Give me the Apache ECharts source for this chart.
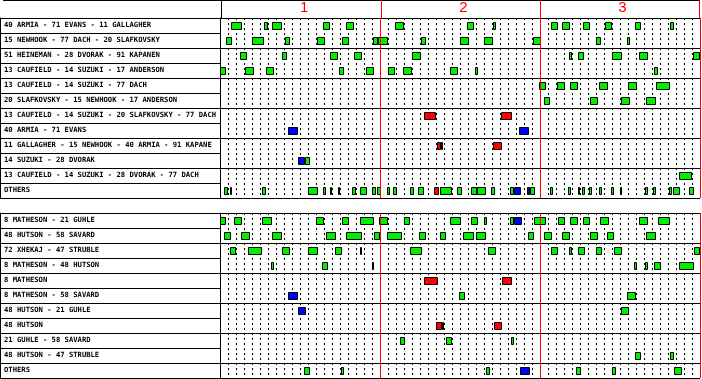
<!DOCTYPE html>
<html><head><meta charset="utf-8">
<script src="https://cdn.jsdelivr.net/npm/echarts@6/dist/echarts.min.js"></script>
<style>html,body{margin:0;padding:0;background:#fff}#c{width:702px;height:379px}</style>
</head><body><div id="c"></div>
<script>
// ---- data ----
var periods = ['1', '2', '3'];
var periodCenters = [10, 30, 50];
var periodEnds = [20, 40, 60];

var topRows = [
  '40 ARMIA - 71 EVANS - 11 GALLAGHER',
  '15 NEWHOOK - 77 DACH - 20 SLAFKOVSKY',
  '51 HEINEMAN - 28 DVORAK - 91 KAPANEN',
  '13 CAUFIELD - 14 SUZUKI - 17 ANDERSON',
  '13 CAUFIELD - 14 SUZUKI - 77 DACH',
  '20 SLAFKOVSKY - 15 NEWHOOK - 17 ANDERSON',
  '13 CAUFIELD - 14 SUZUKI - 20 SLAFKOVSKY - 77 DACH',
  '40 ARMIA - 71 EVANS',
  '11 GALLAGHER - 15 NEWHOOK - 40 ARMIA - 91 KAPANE',
  '14 SUZUKI - 28 DVORAK',
  '13 CAUFIELD - 14 SUZUKI - 28 DVORAK - 77 DACH',
  'OTHERS'
];
var bottomRows = [
  '8 MATHESON - 21 GUHLE',
  '48 HUTSON - 58 SAVARD',
  '72 XHEKAJ - 47 STRUBLE',
  '8 MATHESON - 48 HUTSON',
  '8 MATHESON',
  '8 MATHESON - 58 SAVARD',
  '48 HUTSON - 21 GUHLE',
  '48 HUTSON',
  '21 GUHLE - 58 SAVARD',
  '48 HUTSON - 47 STRUBLE',
  'OTHERS'
];

// [row, start minute, end minute]
var topGreen = [
  [0,1.4,2.7],[0,5.5,6.0],[0,6.5,7.8],[0,12.9,13.8],[0,15.75,16.7],[0,21.9,23.0],[0,30.9,31.7],[0,34.1,34.5],[0,41.4,42.3],[0,42.75,43.7],[0,45.4,46.3],[0,48.1,49.0],[0,51.9,52.6],[0,56.25,56.8],
  [1,0.75,1.55],[1,4.05,5.45],[1,8.1,8.7],[1,12.1,13.1],[1,15.3,16.1],[1,19.1,19.8],[1,19.8,21.05],[1,25.1,25.7],[1,30.0,31.1],[1,33.0,34.1],[1,39.1,40.1],[1,47.0,47.6],[1,50.9,51.2],
  [2,2.5,3.4],[2,7.7,8.4],[2,13.7,14.8],[2,16.7,17.8],[2,24.0,25.1],[2,43.6,44.0],[2,44.75,45.5],[2,49.0,50.2],[2,52.4,53.5],[2,59.1,60],
  [3,0,0.7],[3,3.1,4.2],[3,5.75,6.75],[3,14.9,15.5],[3,18.2,19.2],[3,21.0,21.9],[3,22.9,24.0],[3,28.75,29.8],[3,31.9,32.2],[3,54.25,54.7],
  [4,39.9,40.7],[4,42.1,43.1],[4,43.75,44.8],[4,47.4,48.5],[4,51.0,52.1],[4,54.5,56.3],
  [5,40.5,41.3],[5,46.25,47.2],[5,50.1,51.2],[5,53.25,54.5],
  [8,27.6,27.85],
  [9,10.6,11.2],
  [10,57.4,59.0],
  [11,0.5,0.95],[11,1.2,1.5],[11,5.2,5.7],[11,11.0,12.3],[11,12.9,13.2],[11,13.7,14.0],[11,14.7,15.0],[11,16.5,16.95],[11,17.5,18.4],[11,19.0,19.5],[11,19.6,20.1],[11,20.9,21.2],[11,21.6,22.1],[11,23.75,24.3],[11,24.8,25.5],[11,27.5,29.0],[11,29.6,30.2],[11,31.4,32.1],[11,32.1,33.2],[11,33.9,34.4],[11,36.2,36.75],[11,38.75,39.4],[11,41.2,41.6],[11,43.5,43.9],[11,44.7,45.0],[11,45.25,45.6],[11,46.1,46.5],[11,47.4,47.7],[11,48.9,49.2],[11,50.0,50.3],[11,53.1,53.5],[11,54.1,54.5],[11,56.1,56.5],[11,56.6,57.5],[11,58.6,59.3]
];
var topRed = [
  [6,25.5,27.0],[6,35.1,36.5],
  [8,27.1,27.6],[8,34.1,35.3],
  [11,26.8,27.4]
];
var topBlue = [
  [7,8.5,9.8],[7,37.4,38.6],
  [9,9.7,10.6],
  [11,36.75,37.6],[11,38.4,38.75]
];

var bottomGreen = [
  [0,0,0.7],[0,1.8,2.8],[0,5.2,6.5],[0,12.0,13.0],[0,15.3,16.1],[0,17.5,19.2],[0,19.9,21.0],[0,23.0,23.8],[0,28.7,30.1],[0,31.4,32.2],[0,33.0,33.4],[0,36.2,36.7],[0,39.2,40.7],[0,42.2,43.1],[0,43.8,44.8],[0,45.4,46.3],[0,47.5,48.6],[0,52.4,53.5],[0,54.8,56.3],
  [1,0.55,1.4],[1,2.65,3.8],[1,6.5,7.8],[1,13.3,14.5],[1,15.8,17.7],[1,19.2,20.0],[1,20.9,22.8],[1,24.9,25.7],[1,27.5,28.3],[1,30.4,31.7],[1,32.0,33.2],[1,38.5,39.3],[1,40.5,41.5],[1,42.8,43.8],[1,46.2,47.2],[1,48.4,49.3],[1,53.3,54.5],
  [2,1.3,1.95],[2,3.5,5.3],[2,7.7,8.7],[2,11.0,12.2],[2,14.4,15.3],[2,17.5,17.8],[2,23.7,25.2],[2,33.5,34.5],[2,41.4,42.3],[2,43.6,44.0],[2,44.75,45.6],[2,47.0,47.7],[2,49.2,50.3],[2,59.2,60],
  [3,6.4,6.7],[3,12.8,13.5],[3,19.0,19.3],[3,51.7,52.1],[3,53.1,53.5],[3,54.25,55.1],[3,57.4,59.3],
  [5,29.9,30.6],[5,50.9,52.0],
  [6,50.1,51.1],
  [7,27.7,27.9],
  [8,22.5,23.1],[8,28.2,29.0],[8,36.4,36.8],
  [9,51.9,52.6],[9,56.2,56.8],
  [10,10.5,11.2],[10,15.1,15.5],[10,33.25,33.7],[10,44.5,45.1],[10,49.0,49.5],[10,56.7,57.7]
];
var bottomRed = [
  [4,25.5,27.2],[4,35.2,36.5],
  [7,27.0,27.7],[7,34.2,35.3]
];
var bottomBlue = [
  [0,36.7,37.7],
  [5,8.5,9.8],
  [6,9.7,10.7],
  [10,37.5,38.7]
];

// ---- chart ----
var GREEN = '#00ee00', RED = '#ff0000', BLUE = '#0000ff';

function shiftRenderer(color) {
  return function (params, api) {
    var row = api.value(0);
    var p0 = api.coord([api.value(1), row]);
    var p1 = api.coord([api.value(2), row]);
    var x0 = Math.round(p0[0]) + 0.5;
    var x1 = Math.round(p1[0]) - 0.5;
    var y0 = Math.round(p0[1] - 4) + 0.5;
    return {
      type: 'rect',
      shape: { x: x0, y: y0, width: Math.max(1, x1 - x0), height: 7 },
      style: { fill: color, stroke: '#000', lineWidth: 1 }
    };
  };
}

function periodMarkLine(withZero) {
  var d = periodEnds.map(function (v) { return { xAxis: v }; });
  if (withZero) d.unshift({ xAxis: 0, lineStyle: { color: '#000' } });
  return {
    silent: true, symbol: 'none', label: { show: false },
    lineStyle: { color: RED, type: 'solid', width: 1 },
    emphasis: { disabled: true },
    data: d
  };
}

function shiftSeries(data, color, xi, yi, mark) {
  var s = {
    type: 'custom', xAxisIndex: xi, yAxisIndex: yi,
    renderItem: shiftRenderer(color),
    encode: { x: [1, 2], y: 0 },
    data: data, animation: false, silent: true
  };
  if (mark) s.markLine = periodMarkLine(false);
  return s;
}

var blackLine = { show: true, lineStyle: { color: '#000', width: 1 } };
var labelFont = { fontFamily: 'DejaVu Sans Mono', fontSize: 7.2, fontWeight: 'bold', color: '#000' };

function labelY(rows, gi) {
  return {
    type: 'category', gridIndex: gi, data: rows, inverse: true,
    axisLine: blackLine, axisTick: { show: false },
    axisLabel: Object.assign({ inside: true, margin: 4, interval: 0 }, labelFont),
    splitLine: blackLine
  };
}
function plotY(rows, gi) {
  return {
    type: 'category', gridIndex: gi, data: rows, inverse: true,
    axisLine: blackLine, axisTick: { show: false }, axisLabel: { show: false },
    splitLine: blackLine
  };
}
function plotX(gi) {
  return {
    type: 'value', gridIndex: gi, min: 0, max: 60, interval: 1,
    axisLine: { show: false }, axisTick: { show: false }, axisLabel: { show: false },
    splitLine: { show: true, lineStyle: { color: '#000', width: 1, type: [2, 3] } }
  };
}

var option = {
  animation: false,
  backgroundColor: '#fff',
  grid: [
    { left: 0, right: 2, top: 0, height: 18 },
    { left: 0, width: 220, top: 18, height: 180 },
    { left: 220, right: 2, top: 18, height: 180 },
    { left: 0, width: 220, top: 213, height: 165 },
    { left: 220, right: 2, top: 213, height: 165 }
  ],
  xAxis: [
    {
      type: 'value', gridIndex: 0, min: -27.5, max: 60, interval: 2.5, position: 'top',
      axisLine: { show: false }, axisTick: { show: false }, splitLine: { show: false },
      axisLabel: {
        inside: true, margin: 0, color: RED, fontFamily: 'Liberation Sans', fontSize: 15,
        padding: [0, 0, 0, 6],
        formatter: function (v) {
          var i = periodCenters.indexOf(v);
          return i >= 0 ? periods[i] : '';
        }
      }
    },
    { type: 'value', gridIndex: 1, min: 0, max: 1, show: false },
    plotX(2),
    { type: 'value', gridIndex: 3, min: 0, max: 1, show: false },
    plotX(4)
  ],
  yAxis: [
    {
      type: 'category', gridIndex: 0, data: [''],
      axisLine: blackLine, axisTick: { show: false }, axisLabel: { show: false },
      splitLine: blackLine
    },
    labelY(topRows, 1),
    plotY(topRows, 2),
    labelY(bottomRows, 3),
    plotY(bottomRows, 4)
  ],
  series: [
    {
      type: 'custom', xAxisIndex: 0, yAxisIndex: 0, data: [],
      renderItem: function () { return null; },
      markLine: periodMarkLine(true), silent: true
    },
    shiftSeries(topGreen, GREEN, 2, 2, true),
    shiftSeries(topRed, RED, 2, 2, false),
    shiftSeries(topBlue, BLUE, 2, 2, false),
    shiftSeries(bottomGreen, GREEN, 4, 4, true),
    shiftSeries(bottomRed, RED, 4, 4, false),
    shiftSeries(bottomBlue, BLUE, 4, 4, false)
  ]
};

var chart = echarts.init(document.getElementById('c'), null, { renderer: 'canvas' });
chart.setOption(option);
</script>
</body></html>
